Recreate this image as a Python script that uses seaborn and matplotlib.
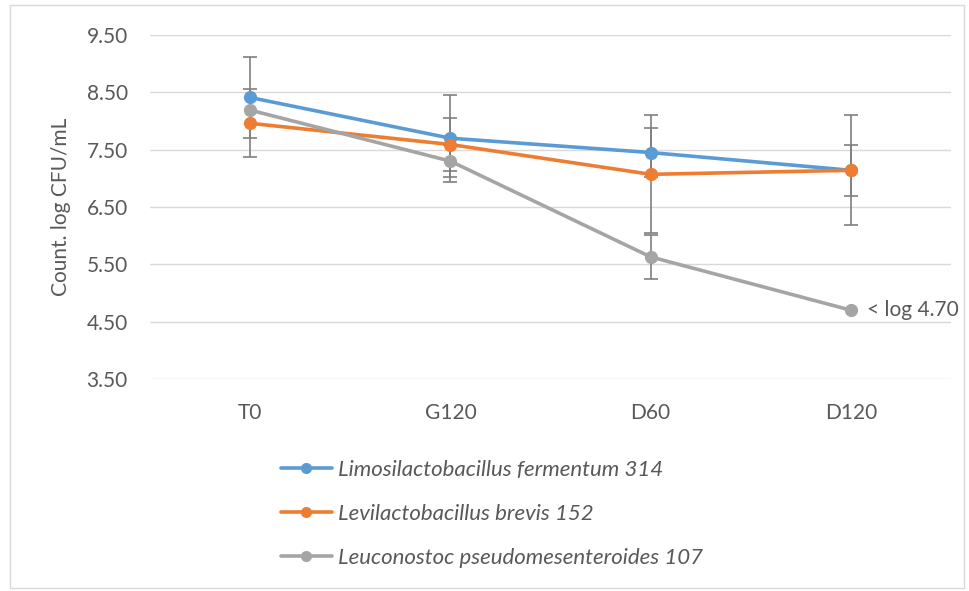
#!/usr/bin/env python3

import pandas as pd
import matplotlib
matplotlib.use('Agg')
import matplotlib.pyplot as plt
import seaborn as sns
from matplotlib.patches import Rectangle

# данные
times = ['T0', 'G120', 'D60', 'D120']
strains = [
    'Limosilactobacillus fermentum 314',
    'Levilactobacillus brevis 152',
    'Leuconostoc pseudomesenteroides 107',
]
fermentum_mean = [8.41, 7.70, 7.45, 7.14]
fermentum_err = [0.70, 0.76, 0.42, 0.96]
brevis_mean = [7.96, 7.59, 7.07, 7.14]
brevis_err = [0.59, 0.46, 1.03, 0.44]
leuconostoc_mean = [8.19, 7.30, 5.63, 4.70]
leuconostoc_err = [0.0, 0.28, 0.39, 0.0]

y_ticks = [3.5, 4.5, 5.5, 6.5, 7.5, 8.5, 9.5]

colors = ['#5B9BD5', '#ED7D31', '#A5A5A5']
text_color = '#595959'
fs = 15

means = [fermentum_mean, brevis_mean, leuconostoc_mean]
errs = [fermentum_err, brevis_err, leuconostoc_err]

rows = []
for s, m, e in zip(strains, means, errs):
    for i, t in enumerate(times):
        rows.append({'pos': i, 'time': t, 'strain': s, 'count': m[i], 'err': e[i]})
df = pd.DataFrame(rows)

sns.set_style('white')
plt.rcParams['font.family'] = ['Lato', 'DejaVu Sans']

fig = plt.figure(figsize=(9.69, 5.91), dpi=100)
ax = fig.add_axes([150 / 969, 1 - 379 / 591, 801 / 969, 344 / 591])

# error bars (под линиями)
for s in strains:
    sub = df[(df['strain'] == s) & (df['err'] > 0)]
    ax.errorbar(sub['pos'], sub['count'], yerr=sub['err'], fmt='none',
                ecolor='#7F7F7F', elinewidth=1.2, capsize=5, capthick=1.2, zorder=2)

palette = dict(zip(strains, colors))
sns.lineplot(data=df, x='pos', y='count', hue='strain', hue_order=strains,
             palette=palette, marker='o', markersize=9.5, markeredgewidth=0,
             linewidth=2.6, sort=False, ax=ax, zorder=3)

ax.set_xlim(-0.5, 3.5)
ax.set_ylim(3.5, 9.5)
ax.set_xticks(range(len(times)))
ax.set_xticklabels(times)
ax.set_yticks(y_ticks)
ax.set_yticklabels([f'{v:.2f}' for v in y_ticks])
ax.tick_params(axis='both', length=0, labelsize=fs, labelcolor=text_color)
ax.tick_params(axis='x', pad=17)
ax.tick_params(axis='y', pad=16)
ax.grid(axis='y', color='#D9D9D9', linewidth=1)
ax.set_axisbelow(True)
for sp in ax.spines.values():
    sp.set_visible(False)

ax.set_xlabel('')
ax.set_ylabel('Count. log CFU/mL', fontsize=fs, color=text_color, labelpad=11)

ax.text(3.08, leuconostoc_mean[3], '< log 4.70', ha='left', va='center',
        fontsize=fs, color=text_color)

# легенда снизу
handles, labels = ax.get_legend_handles_labels()
ax.get_legend().remove()
for h in handles:
    h.set_markersize(8)
fig.legend(handles, labels, loc='upper left', bbox_to_anchor=(272 / 969, 1 - 451 / 591),
           frameon=False, prop={'style': 'italic', 'size': 16},
           labelcolor=text_color, handlelength=2.3, handletextpad=0.25,
           labelspacing=1.08, borderaxespad=0)

# рамка вокруг рисунка
fig.patches.append(Rectangle((10 / 969, 3 / 591), 954 / 969, 583 / 591,
                             transform=fig.transFigure, fill=False,
                             edgecolor='#D9D9D9', linewidth=1))

fig.savefig('out.png', dpi=100)
